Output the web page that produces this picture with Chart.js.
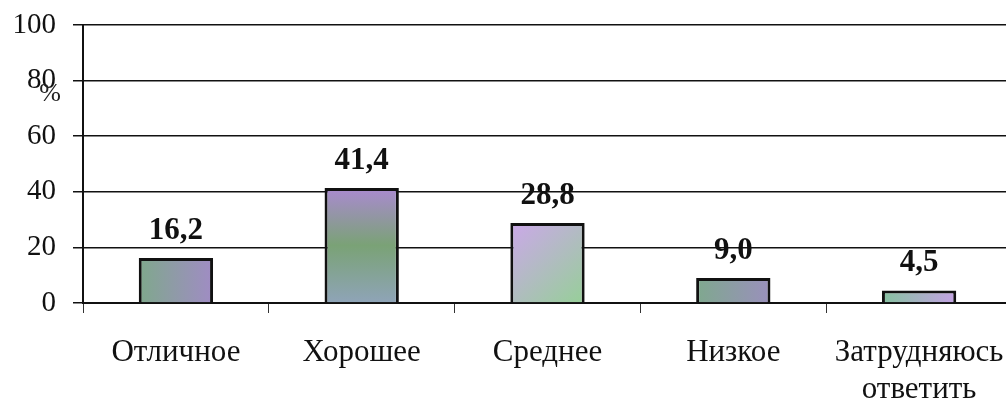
<!DOCTYPE html>
<html>
<head>
<meta charset="utf-8">
<script src="https://cdn.jsdelivr.net/npm/chart.js@4/dist/chart.umd.min.js"></script>
<style>
  html, body { margin: 0; padding: 0; background: #fff; overflow: hidden; }
  #wrap { position: absolute; left: 0; top: 0; width: 1012px; height: 405px; }
</style>
</head>
<body>
<div id="wrap"><canvas id="chart"></canvas></div>
<script>
// === Data ===
const categories = ["Отличное", "Хорошее", "Среднее", "Низкое", ["Затрудняюсь", "ответить"]];
const values = [16.2, 41.4, 28.8, 9.0, 4.5];
const yTicks = [0, 20, 40, 60, 80, 100];

// === Bar styles (gradient colours + direction) ===
const barColors = [
  ["#7fa88c", "#a08cc4"],
  ["#aa8ad0", "#7aa276", "#8fa4b8"],
  ["#cca8ea", "#96cf98"],
  ["#7fa88e", "#9a90bc"],
  ["#86c2a0", "#c4a2e4"]
];
const gradDir = ["h", "v", "d", "h", "h"];

const FONT = "'Liberation Serif', 'Times New Roman', serif";

function barFill(ctx) {
  const chart = ctx.chart;
  const i = ctx.dataIndex;
  const cols = barColors[i];
  if (!chart.chartArea || !chart.scales.x) return cols[0];
  const xs = chart.scales.x, ys = chart.scales.y;
  const cx = xs.getPixelForValue(i);
  const half = 37;
  const top = ys.getPixelForValue(values[i]);
  const bottom = ys.getPixelForValue(0);
  let g;
  if (gradDir[i] === "h") g = chart.ctx.createLinearGradient(cx - half, 0, cx + half, 0);
  else if (gradDir[i] === "v") g = chart.ctx.createLinearGradient(0, top, 0, bottom);
  else g = chart.ctx.createLinearGradient(cx - half, top, cx + half, bottom);
  cols.forEach((c, k) => g.addColorStop(k / (cols.length - 1), c));
  return g;
}

// --- value labels above bars ---
const valueLabels = {
  id: "valueLabels",
  afterDatasetsDraw(chart) {
    const ctx = chart.ctx;
    const meta = chart.getDatasetMeta(0);
    ctx.save();
    ctx.font = "bold 31px " + FONT;
    ctx.fillStyle = "#111";
    ctx.textAlign = "center";
    ctx.textBaseline = "alphabetic";
    meta.data.forEach((bar, i) => {
      ctx.fillText(values[i].toFixed(1).replace(".", ","), bar.x, bar.y - 19);
    });
    ctx.restore();
  }
};

// --- "%" unit mark next to the y axis ---
const unitMark = {
  id: "unitMark",
  afterDraw(chart) {
    const ctx = chart.ctx;
    const ys = chart.scales.y;
    ctx.save();
    ctx.font = "26px " + FONT;
    ctx.fillStyle = "#222";
    ctx.textAlign = "center";
    ctx.textBaseline = "middle";
    ctx.fillText("%", chart.chartArea.left - 33, ys.getPixelForValue(75));
    ctx.restore();
  }
};

new Chart(document.getElementById("chart"), {
  type: "bar",
  data: {
    labels: categories,
    datasets: [{
      data: values,
      backgroundColor: barFill,
      borderColor: "#111",
      borderWidth: 3,
      borderSkipped: "bottom",
      barPercentage: 0.4,
      categoryPercentage: 1
    }]
  },
  options: {
    responsive: true,
    maintainAspectRatio: false,
    animation: false,
    layout: { padding: { top: 25, left: 0, right: 0, bottom: 0 } },
    plugins: { legend: { display: false }, tooltip: { enabled: false } },
    scales: {
      x: {
        afterFit(scale) {
          scale.height = 102;
          scale.paddingLeft = 0;
          scale.paddingRight = 0;
        },
        grid: { drawOnChartArea: false, offset: true, color: "#333", lineWidth: 1, tickLength: 10 },
        border: { color: "#111", width: 2 },
        ticks: { color: "#111", font: { family: FONT, size: 31, lineHeight: 1.2 }, padding: 21, maxRotation: 0, autoSkip: false }
      },
      y: {
        min: 0,
        max: 100,
        afterFit(scale) {
          scale.width = 83;
          scale.paddingTop = 0;
          scale.paddingBottom = 0;
        },
        afterBuildTicks(scale) { scale.ticks = yTicks.map(v => ({ value: v })); },
        grid: { color: "#111", lineWidth: 1.5, tickLength: 10 },
        border: { color: "#111", width: 2 },
        ticks: { color: "#111", font: { family: FONT, size: 29 }, padding: 17 }
      }
    }
  },
  plugins: [valueLabels, unitMark]
});
</script>
</body>
</html>
